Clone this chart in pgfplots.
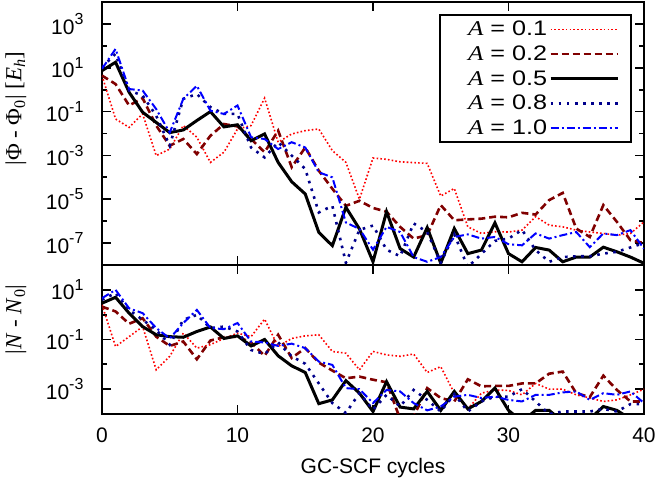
\documentclass[border=0pt]{standalone}
\usepackage{fontspec}
\setmainfont{Liberation Sans}
\newfontfamily\timesf{Liberation Serif}
\usepackage{graphicx}
\usepackage{pgfplots}
\usepackage{pgfplotstable}
\pgfplotsset{compat=1.18}

\definecolor{cRed}{RGB}{255,0,0}
\definecolor{cMaroon}{RGB}{128,0,0}
\definecolor{cNavy}{RGB}{0,0,140}
\definecolor{cBlue}{RGB}{0,0,255}

\newcommand\tl[1]{10\raisebox{0.45em}{\fontsize{16}{16}\selectfont #1}}
\newcommand\bigf{\fontsize{21}{21}\selectfont}
\newcommand\lentry[1]{\hspace*{14pt}\scalebox{1.2}[1]{{\timesf\itshape A} = #1}}

\pgfplotstableread{
n a01 a02 a05 a08 a10
0 4.4 4.4 7.4 10.5 8.9
1 0.046 1.8 17.8 43 72
2 0.019 0.19 0.76 0.91 1.07
3 0.078 0.41 0.093 0.54 0.91
4 9.8e-4 0.023 0.032 0.065 0.13
5 1.95e-3 2.75e-3 0.011 2.75e-3 0.011
6 0.023 5.6e-3 0.0145 0.38 0.38
7 6.8e-3 1.15e-3 0.039 0.63 1.5
8 4.8e-4 7.9e-3 0.10 0.16 0.11
9 1.4e-3 0.027 0.020 0.078 0.078
10 0.016 0.021 0.025 0.078 0.19
11 0.023 5.6e-3 4.7e-3 2.3e-3 6.8e-3
12 0.41 1.4e-3 9.5e-3 8.1e-4 5.6e-3
13 4.0e-3 0.0135 4.8e-4 4.0e-3 1.95e-3
14 9.5e-3 2.9e-4 6.3e-5 9.8e-4 4.0e-3
15 0.0135 2.3e-3 1.74e-5 2.4e-4 2.3e-3
16 0.016 2.0e-4 3.1e-7 2.5e-6 1.7e-4
17 1.66e-3 3.0e-5 7.6e-8 5.0e-6 1.0e-4
18 4.8e-4 5.0e-6 4.3e-6 1.26e-8 8.7e-7
19 1.0e-5 8.5e-6 4.4e-7 4.0e-7 4.4e-7
20 7.6e-4 4.0e-6 1.4e-8 6.3e-7 5.0e-8
21 6.6e-4 2.7e-6 2.7e-6 5.0e-8 5.5e-7
22 5.1e-4 5.5e-7 5.6e-8 2.5e-8 3.2e-7
23 4.7e-4 1.6e-7 2.3e-8 7.9e-7 2.3e-8
24 4.3e-4 2.3e-7 5.1e-7 3.2e-7 1.4e-8
25 1.4e-5 5.4e-6 1.2e-8 1.26e-8 2.3e-8
26 3.1e-5 1.1e-6 4.6e-7 2.5e-7 1.9e-7
27 5.5e-7 1.2e-6 3.3e-8 8e-9 2.5e-7
28 2.75e-7 1.3e-6 4.8e-8 3.2e-8 1.6e-7
29 3.3e-7 1.6e-6 8.3e-7 1.26e-7 1.9e-7
30 3.2e-7 1.5e-6 3.3e-8 1.6e-7 8.9e-8
31 3.9e-7 2.4e-6 1.4e-8 4.0e-7 7.9e-8
32 1.6e-6 2.0e-6 6.3e-8 4.8e-8 2.75e-7
33 6.6e-7 9.1e-6 4.8e-8 1.4e-8 1.6e-7
34 5.5e-7 1.95e-5 1.4e-8 2.3e-8 2.3e-7
35 3.9e-7 4.6e-7 2.3e-8 2.5e-8 3.2e-7
36 3.2e-7 1.9e-7 2.3e-8 2.5e-8 6.5e-8
37 2.75e-7 5.4e-6 6.5e-8 3.3e-8 2.75e-7
38 2.3e-7 9.3e-7 4.0e-8 4.0e-8 2.3e-7
39 2.75e-7 1.35e-7 2.3e-8 6.3e-8 3.9e-7
40 9.3e-7 1.0e-7 1.2e-8 1.0e-7 5.5e-8
}\topdata

\pgfplotstableread{
n a01 a02 a05 a08 a10
0 2.5 2.1 2.9 4.0 4.6
1 0.052 1.35 5.0 7.4 10
2 0.13 0.43 1.15 1.55 1.8
3 0.33 0.72 0.33 0.62 1.15
4 6.0e-3 0.13 0.155 0.245 0.29
5 0.021 0.055 0.13 0.062 0.11
6 0.18 0.083 0.123 0.62 0.46
7 0.045 0.016 0.21 0.98 1.55
8 0.062 0.091 0.32 0.29 0.29
9 0.11 0.123 0.11 0.33 0.26
10 0.18 0.13 0.14 0.21 0.46
11 0.13 0.076 0.055 0.038 0.083
12 0.66 0.022 0.10 0.026 0.076
13 0.052 0.155 0.022 0.076 0.055
14 0.11 0.018 8.7e-3 0.021 0.068
15 0.14 0.045 4.7e-3 0.0105 0.045
16 0.155 0.0117 2.6e-4 1.7e-3 0.0129
17 0.033 5.6e-3 3.7e-4 2.75e-4 9.5e-3
18 0.028 2.75e-3 2.2e-3 1.1e-4 1.1e-3
19 6.0e-3 3.2e-3 6.9e-4 6.9e-4 1.0e-3
20 0.033 2.4e-3 1.26e-4 1.5e-4 2.75e-4
21 0.024 1.9e-3 2.0e-3 5.9e-4 9.3e-4
22 0.021 6.3e-5 1.9e-4 2.0e-4 8.1e-4
23 0.026 7.9e-5 1.6e-4 9.3e-4 2.75e-4
24 4.7e-3 1.1e-3 8.1e-4 3.7e-4 1.4e-4
25 8.1e-3 4.4e-4 1.4e-4 1.26e-4 2.0e-4
26 6.9e-4 3.2e-4 8.1e-4 6.3e-4 5.0e-4
27 1.6e-4 2.5e-3 1.6e-4 1.26e-4 5.9e-4
28 6.9e-4 1.3e-3 3.2e-4 3.2e-4 4.4e-4
29 9.3e-4 1.35e-3 1.1e-3 5.0e-4 5.0e-4
30 8.9e-4 1.35e-3 1.4e-4 5.0e-4 3.7e-4
31 5.9e-4 1.7e-3 5e-5 1.0e-3 3.2e-4
32 1.7e-3 1.7e-3 1.4e-4 3.2e-4 5.9e-4
33 1.0e-3 4.2e-3 1.4e-4 1.0e-4 5.9e-4
34 1.0e-3 5.1e-3 5e-5 1.26e-4 7.4e-4
35 5.9e-4 6.9e-4 5e-5 1.26e-4 8.1e-4
36 4.4e-4 4.8e-4 6.3e-5 1.26e-4 3.7e-4
37 3.2e-4 3.5e-3 2.0e-4 1.6e-4 6.9e-4
38 3.7e-4 9.3e-4 1.4e-4 1.26e-4 5.9e-4
39 5.9e-4 3.2e-4 6.3e-5 2.5e-4 8.1e-4
40 1.0e-3 3.2e-4 4e-5 2.5e-4 2.75e-4
}\botdata

\tikzset{
  s01/.style={color=cRed, line width=1.6pt, dash pattern=on 1.6pt off 2.2pt},
  s02/.style={color=cMaroon, line width=2.6pt, dash pattern=on 7pt off 4pt},
  s05/.style={color=black, line width=3pt, solid},
  s08/.style={color=cNavy, line width=2.6pt, dash pattern=on 2.6pt off 5.5pt},
  s10/.style={color=cBlue, line width=2pt, dash pattern=on 8pt off 3pt on 2pt off 3pt},
}

\begin{document}
\begin{tikzpicture}
\useasboundingbox (0,0) rectangle (657pt,489pt);
\begin{axis}[scale only axis, width=542pt, xmin=0, xmax=40, ymode=log,
  axis line style={line width=2.4pt},
  tick style={line width=1.8pt, black},
  major tick length=9pt, minor tick length=5pt,
  tick align=inside,
  xtick={0,10,20,30,40},
  tick label style={font=\bigf},
  yticklabel style={xshift=-15pt},
  ylabel style={at={(rel axis cs:0,0.5)}, anchor=center, xshift=25pt, yshift=86pt, font=\fontsize{23}{23}\selectfont\timesf},
  at={(102pt,224pt)}, anchor=south west, height=263pt,
  ymin=1e-8, ymax=1e4,
  ytick={1e-7,1e-5,1e-3,1e-1,1e1,1e3},
  yticklabels={\tl{-7},\tl{-5},\tl{-3},\tl{-1},\tl{1},\tl{3}},
  minor ytick={1e-6,1e-4,1e-2,1,1e2},
  xticklabels={},
  ylabel={|Φ - Φ\textsubscript{0}| [\textit{E}\textsubscript{\textit{h}}]},
  legend style={at={(rel axis cs:0.9785,0.954)}, anchor=north east,
    draw=black, line width=2.4pt, font=\bigf, row sep=4.5pt, inner xsep=12pt, inner ysep=4pt},
  legend cell align=right, legend plot pos=right,
  legend image code/.code={\draw[#1] (0pt,0pt) -- (67pt,0pt);},
]
\addplot[s01] table[x=n,y=a01] {\topdata};
\addlegendentry{\lentry{0.1}}
\addplot[s02] table[x=n,y=a02] {\topdata};
\addlegendentry{\lentry{0.2}}
\addplot[s05] table[x=n,y=a05] {\topdata};
\addlegendentry{\lentry{0.5}}
\addplot[s08] table[x=n,y=a08] {\topdata};
\addlegendentry{\lentry{0.8}}
\addplot[s10] table[x=n,y=a10] {\topdata};
\addlegendentry{\lentry{1.0}}
\end{axis}
\begin{axis}[scale only axis, width=542pt, xmin=0, xmax=40, ymode=log,
  axis line style={line width=2.4pt},
  tick style={line width=1.8pt, black},
  major tick length=9pt, minor tick length=5pt,
  tick align=inside,
  xtick={0,10,20,30,40},
  tick label style={font=\bigf},
  yticklabel style={xshift=-15pt},
  xticklabel style={yshift=-10pt},
  ylabel style={at={(rel axis cs:0,0.5)}, anchor=center, xshift=20pt, yshift=86pt, font=\fontsize{23}{23}\selectfont\timesf},
  at={(102pt,75pt)}, anchor=south west, height=149pt,
  ymin=1e-4, ymax=1e2,
  ytick={1e-3,1e-1,1e1},
  yticklabels={\tl{-3},\tl{-1},\tl{1}},
  minor ytick={1e-2,1},
  xticklabels={0,10,20,30,40},
  xlabel={GC-SCF cycles},
  xlabel style={font=\bigf, at={(rel axis cs:0.5,0)}, yshift=-54pt, anchor=center},
  ylabel={|\textit{N} - \textit{N}\textsubscript{0}|},
]
\addplot[s01] table[x=n,y=a01] {\botdata};
\addplot[s02] table[x=n,y=a02] {\botdata};
\addplot[s05] table[x=n,y=a05] {\botdata};
\addplot[s08] table[x=n,y=a08] {\botdata};
\addplot[s10] table[x=n,y=a10] {\botdata};
\end{axis}
\end{tikzpicture}
\end{document}
